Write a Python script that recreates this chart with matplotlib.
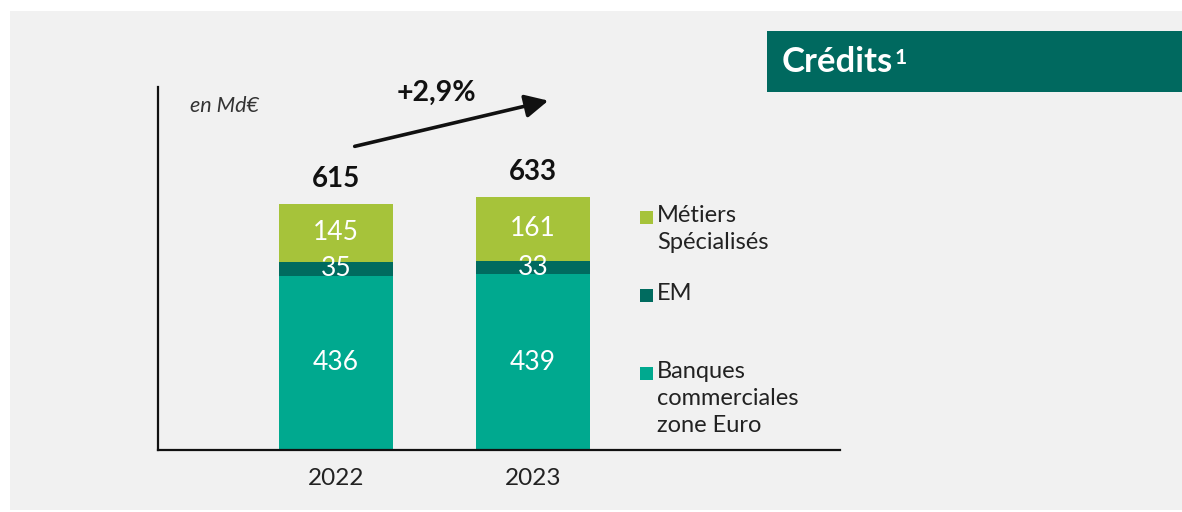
import matplotlib.pyplot as plt
from matplotlib.patches import Rectangle, FancyArrowPatch

W, H = 1182, 512

years = ['2022', '2023']
banques = [436, 439]
em = [35, 33]
metiers = [145, 161]
totals = [615, 633]
growth = '+2,9%'
series_names = ['Métiers\nSpécialisés', 'EM', 'Banques\ncommerciales\nzone Euro']

c_metiers = '#a6c33a'
c_em = '#006b5f'
c_banques = '#00a98f'
bg = '#f1f1f1'
font = ['Lato', 'DejaVu Sans']
plt.rcParams['font.family'] = font


def px(x, y):
    # pixel coords (top-left origin) -> figure fraction
    return x / W, 1 - y / H


fig = plt.figure(figsize=(W / 100, H / 100), dpi=100)
fig.patch.set_facecolor('white')
fig.add_artist(Rectangle(px(10, 510), 1172 / W, 499 / H, transform=fig.transFigure,
                         facecolor=bg, edgecolor='none', zorder=0))

# axes box in pixels: x 158..840, y 87..450
ax = fig.add_axes([158 / W, 1 - 450 / H, (840 - 158) / W, (450 - 87) / H])
ax.set_facecolor('none')
ax.set_xlim(-0.904, 2.558)
ax.set_ylim(0, 907.5)

x = [0, 1]
bw = 0.579
b1 = [a + b for a, b in zip(banques, em)]
ax.bar(x, banques, bw, color=c_banques, zorder=2)
ax.bar(x, em, bw, bottom=banques, color=c_em, zorder=2)
ax.bar(x, metiers, bw, bottom=b1, color=c_metiers, zorder=2)

for i in range(len(x)):
    ax.text(x[i], banques[i] / 2, str(banques[i]), ha='center', va='center',
            color='white', fontsize=19, zorder=3)
    ax.text(x[i], banques[i] + em[i] / 2, str(em[i]), ha='center', va='center',
            color='white', fontsize=19, zorder=3)
    ax.text(x[i], b1[i] + metiers[i] / 2, str(metiers[i]), ha='center', va='center',
            color='white', fontsize=19, zorder=3)
    ax.text(x[i], totals[i] + 62, str(totals[i]), ha='center', va='center',
            color='#111111', fontsize=20, fontweight='bold', zorder=3)

for s in ['top', 'right']:
    ax.spines[s].set_visible(False)
for s in ['left', 'bottom']:
    ax.spines[s].set_linewidth(1.6)
    ax.spines[s].set_color('#111111')
ax.set_yticks([])
ax.set_xticks(x)
ax.set_xticklabels(years, fontsize=17.5, color='#222222')
ax.tick_params(axis='x', length=0, pad=13)

# unit label
fig.text(*px(190, 106), 'en Md€', fontsize=15.5, style='italic', color='#333333',
         ha='left', va='center')

# growth arrow
arr = FancyArrowPatch(px(352, 147), px(551, 100), transform=fig.transFigure,
                      arrowstyle='-|>,head_length=10,head_width=5', linewidth=2.6,
                      color='#111111', mutation_scale=1.4)
fig.add_artist(arr)
fig.text(*px(436, 93), growth, fontsize=20.5, fontweight='bold', color='#111111',
         ha='center', va='center')

# legend
leg_colors = [c_metiers, c_em, c_banques]
leg_y = [211, 289, 367]
for name, col, y0 in zip(series_names, leg_colors, leg_y):
    fig.add_artist(Rectangle(px(640, y0 + 13), 13 / W, 13 / H, transform=fig.transFigure,
                             facecolor=col, edgecolor='none'))
    fig.text(*px(657, y0 - 6), name, fontsize=17, color='#222222', ha='left', va='top',
             linespacing=1.35)

# title box
fig.add_artist(Rectangle(px(767, 92), (W - 767) / W, 61 / H, transform=fig.transFigure,
                         facecolor='#00695f', edgecolor='none'))
title = fig.text(*px(782, 62), 'Crédits', fontsize=25, fontweight='bold', color='white',
                 ha='left', va='center')
fig.canvas.draw()
bb = title.get_window_extent()
fig.text(bb.x1 / W + 1 / W, 1 - 48 / H, '1', fontsize=15, fontweight='bold',
         color='white', ha='left', va='top')

fig.savefig('out.png', dpi=100, facecolor=fig.get_facecolor())
